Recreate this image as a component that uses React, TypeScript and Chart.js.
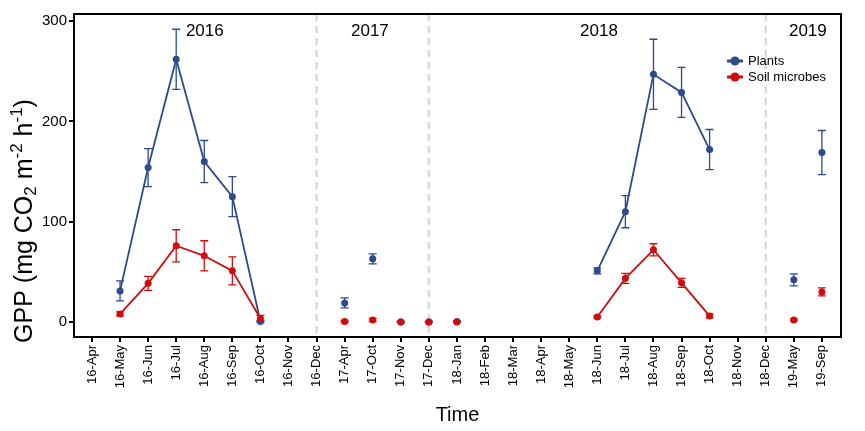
import { useEffect, useRef } from "react";
import { Chart, registerables } from "chart.js";

Chart.register(...registerables);

const categories = [
  "16-Apr", "16-May", "16-Jun", "16-Jul", "16-Aug", "16-Sep", "16-Oct", "16-Nov", "16-Dec",
  "17-Apr", "17-Oct", "17-Nov", "17-Dec",
  "18-Jan", "18-Feb", "18-Mar", "18-Apr", "18-May", "18-Jun", "18-Jul", "18-Aug", "18-Sep", "18-Oct", "18-Nov", "18-Dec",
  "19-May", "19-Sep",
];

const plants: (number | null)[] = [
  null, 31, 154, 262, 160, 125, 0.5, null, null,
  19, 63, 0, 0,
  0.5, null, null, null, null, 51, 110, 247, 229, 172, null, null,
  42, 169,
];
const plantsErr: (number | null)[] = [
  null, 10, 19, 30, 21, 20, 1, null, null,
  5, 5, 0.5, 0.5,
  0.5, null, null, null, null, 3, 16, 35, 25, 20, null, null,
  6, 22,
];
const microbes: (number | null)[] = [
  null, 8, 38.5, 76, 66, 51, 3.5, null, null,
  0.5, 2, 0, 0,
  0, null, null, null, null, 5, 43.5, 72, 39, 6, null, null,
  2, 30,
];
const microbesErr: (number | null)[] = [
  null, 2, 7, 16, 15, 14, 3, null, null,
  1, 1.5, 0.5, 0.5,
  0.5, null, null, null, null, 1, 5, 6, 4.5, 2, null, null,
  1, 4,
];

// index ranges (category indices) whose points are joined by a line
const connectedRuns = [[1, 6], [18, 22]];
// year-boundary dashed lines (category indices)
const dividers = [8, 12, 24];
const yearLabels = [
  { text: "2016", at: 4.02 },
  { text: "2017", at: 9.9 },
  { text: "2018", at: 18.06 },
  { text: "2019", at: 25.5 },
];
const yTicks = [0, 100, 200, 300];

const BLUE = "#2C4A8C";
const RED = "#D10C0C";
const FONT = "'Liberation Sans', Arial, Helvetica, sans-serif";

const inRun = (a: number, b: number) =>
  connectedRuns.some(([s, e]) => a >= s && b <= e);

const errorBarsPlugin = {
  id: "errorBars",
  beforeDatasetsDraw(chart: any) {
    const { ctx, scales } = chart;
    const xs = scales.x;
    const ys = scales.y;
    chart.data.datasets.forEach((ds: any) => {
      const errs: (number | null)[] = ds.errors;
      ctx.save();
      ctx.strokeStyle = ds.borderColor;
      ctx.lineWidth = 1.3;
      ds.data.forEach((p: any, i: number) => {
        const e = errs[i];
        if (p.y == null || e == null) return;
        const x = xs.getPixelForValue(p.x);
        const y1 = ys.getPixelForValue(p.y + e);
        const y2 = ys.getPixelForValue(p.y - e);
        ctx.beginPath();
        ctx.moveTo(x, y1);
        ctx.lineTo(x, y2);
        ctx.moveTo(x - 4, y1);
        ctx.lineTo(x + 4, y1);
        ctx.moveTo(x - 4, y2);
        ctx.lineTo(x + 4, y2);
        ctx.stroke();
      });
      ctx.restore();
    });
  },
};

const decorPlugin = {
  id: "decor",
  beforeDatasetsDraw(chart: any) {
    const { ctx, chartArea, scales } = chart;
    ctx.save();
    ctx.strokeStyle = "#d9d9d9";
    ctx.lineWidth = 2.5;
    ctx.setLineDash([7, 5]);
    dividers.forEach((d) => {
      const x = scales.x.getPixelForValue(d);
      ctx.beginPath();
      ctx.moveTo(x, chartArea.top);
      ctx.lineTo(x, chartArea.bottom);
      ctx.stroke();
    });
    ctx.setLineDash([]);
    ctx.fillStyle = "#000";
    ctx.font = `17px ${FONT}`;
    ctx.textAlign = "center";
    ctx.textBaseline = "middle";
    yearLabels.forEach((l) => {
      ctx.fillText(l.text, scales.x.getPixelForValue(l.at), chartArea.top + 17);
    });
    ctx.restore();
  },
  afterDraw(chart: any) {
    const { ctx, chartArea } = chart;
    ctx.save();
    // frame
    ctx.strokeStyle = "#000";
    ctx.lineWidth = 2;
    ctx.strokeRect(chartArea.left, chartArea.top, chartArea.right - chartArea.left, chartArea.bottom - chartArea.top);

    // legend
    const items = [
      { label: "Plants", color: BLUE },
      { label: "Soil microbes", color: RED },
    ];
    const lx = chartArea.right - 114;
    items.forEach((it, k) => {
      const y = chartArea.top + 47 + k * 16;
      ctx.strokeStyle = it.color;
      ctx.lineWidth = 3;
      ctx.beginPath();
      ctx.moveTo(lx, y);
      ctx.lineTo(lx + 16, y);
      ctx.stroke();
      ctx.fillStyle = it.color;
      ctx.beginPath();
      ctx.arc(lx + 8, y, 4.5, 0, Math.PI * 2);
      ctx.fill();
      ctx.fillStyle = "#000";
      ctx.font = `13px ${FONT}`;
      ctx.textAlign = "left";
      ctx.textBaseline = "middle";
      ctx.fillText(it.label, lx + 21, y);
    });

    // y axis title with sub/superscripts
    const parts: { t: string; kind: "n" | "sub" | "sup" }[] = [
      { t: "GPP (mg CO", kind: "n" },
      { t: "2", kind: "sub" },
      { t: " m", kind: "n" },
      { t: "-2", kind: "sup" },
      { t: " h", kind: "n" },
      { t: "-1", kind: "sup" },
      { t: ")", kind: "n" },
    ];
    const big = 25;
    const small = 17;
    const fontFor = (k: string) => `${k === "n" ? big : small}px ${FONT}`;
    let total = 0;
    parts.forEach((p) => {
      ctx.font = fontFor(p.kind);
      total += ctx.measureText(p.t).width;
    });
    ctx.translate(25, 221);
    ctx.rotate(-Math.PI / 2);
    ctx.fillStyle = "#000";
    ctx.textAlign = "left";
    ctx.textBaseline = "middle";
    let cx = -total / 2;
    parts.forEach((p) => {
      ctx.font = fontFor(p.kind);
      const dy = p.kind === "sub" ? 6 : p.kind === "sup" ? -8 : 0;
      ctx.fillText(p.t, cx, dy);
      cx += ctx.measureText(p.t).width;
    });
    ctx.restore();
  },
};

const mkData = (vals: (number | null)[]) => vals.map((v, i) => ({ x: i, y: v }));

export default function App() {
  const ref = useRef<HTMLCanvasElement | null>(null);
  useEffect(() => {
    if (!ref.current) return;
    const mkDs = (label: string, vals: (number | null)[], errs: (number | null)[], color: string) => ({
      label,
      data: mkData(vals),
      errors: errs,
      borderColor: color,
      backgroundColor: color,
      borderWidth: 1.8,
      pointRadius: 3.5,
      pointHoverRadius: 3.5,
      pointBorderWidth: 0,
      spanGaps: false,
      tension: 0,
      segment: {
        borderColor: (c: any) => (inRun(c.p0DataIndex, c.p1DataIndex) ? color : "rgba(0,0,0,0)"),
      },
    });
    const chart = new Chart(ref.current, {
      type: "line",
      data: {
        datasets: [
          mkDs("Soil microbes", microbes, microbesErr, RED),
          mkDs("Plants", plants, plantsErr, BLUE),
        ] as any,
      },
      plugins: [errorBarsPlugin, decorPlugin],
      options: {
        animation: false,
        responsive: true,
        maintainAspectRatio: false,
        layout: { padding: { top: 14, right: 24, left: 0, bottom: 0 } },
        plugins: { legend: { display: false }, tooltip: { enabled: false } },
        scales: {
          x: {
            type: "linear",
            min: -0.64,
            max: 26.68,
            afterFit: (s: any) => {
              s.height = 94;
            },
            afterBuildTicks: (s: any) => {
              s.ticks = categories.map((_, i) => ({ value: i }));
            },
            ticks: {
              autoSkip: false,
              maxRotation: 90,
              minRotation: 90,
              padding: 3,
              color: "#000",
              font: { size: 13, family: FONT },
              callback: (v: any) => categories[v as number] ?? "",
            },
            grid: { display: true, drawOnChartArea: false, drawTicks: true, tickLength: 5, color: "#000", lineWidth: 2 },
            border: { display: false },
            title: {
              display: true,
              text: "Time",
              color: "#000",
              font: { size: 20, family: FONT },
              padding: { top: 0, bottom: 4 },
            },
          },
          y: {
            type: "linear",
            min: -15,
            max: 307.2,
            afterFit: (s: any) => {
              s.width = 74;
            },
            afterBuildTicks: (s: any) => {
              s.ticks = yTicks.map((v) => ({ value: v }));
            },
            ticks: {
              padding: 2,
              color: "#000",
              font: { size: 15, family: FONT },
            },
            grid: { display: true, drawOnChartArea: false, drawTicks: true, tickLength: 5, color: "#000", lineWidth: 2 },
            border: { display: false },
          },
        },
      } as any,
    });
    return () => chart.destroy();
  }, []);
  return (
    <div style={{ position: "fixed", left: 0, top: 0, width: 865, height: 431, background: "#fff" }}>
      <canvas ref={ref} />
    </div>
  );
}
